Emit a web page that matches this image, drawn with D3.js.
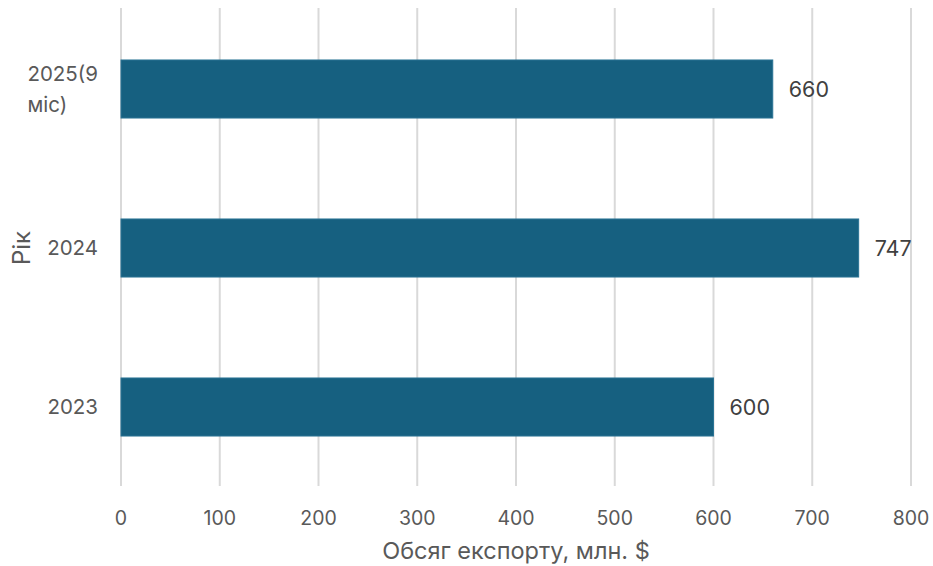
<!DOCTYPE html>
<html lang="uk">
<head>
<meta charset="UTF-8">
<title>Обсяг експорту</title>
<script src="https://d3js.org/d3.v7.min.js"></script>
<style>
  body { margin: 0; background: #fff; }
  text { font-family: Inter, "Noto Sans", sans-serif; fill: #595959; }
</style>
</head>
<body>
<script>
var years = ['2025(9 міс)', '2024', '2023'];
var values = [660, 747, 600];
var xTicks = [0, 100, 200, 300, 400, 500, 600, 700, 800];

var width = 933, height = 566;

var svg = d3.select('body').append('svg')
  .attr('width', width)
  .attr('height', height);

var x = d3.scaleLinear().domain([0, 800]).range([121, 911]);
var y = d3.scaleBand().domain(years)
  .range([9.5, 486.5])
  .paddingInner(0.635)
  .paddingOuter(0.3175);

// gridlines
svg.selectAll('line.grid')
  .data(xTicks)
  .enter().append('line')
  .attr('class', 'grid')
  .attr('x1', function(d) { return x(d); })
  .attr('x2', function(d) { return x(d); })
  .attr('y1', 8)
  .attr('y2', 486)
  .attr('stroke', '#d9d9d9')
  .attr('stroke-width', 2);

// bars
svg.selectAll('rect.bar')
  .data(values)
  .enter().append('rect')
  .attr('class', 'bar')
  .attr('x', x(0))
  .attr('y', function(d, i) { return y(years[i]); })
  .attr('width', function(d) { return x(d) - x(0); })
  .attr('height', y.bandwidth())
  .attr('fill', '#166080')
  .attr('stroke', '#2a7394')
  .attr('stroke-width', 1);

// value labels
svg.selectAll('text.val')
  .data(values)
  .enter().append('text')
  .attr('class', 'val')
  .attr('x', function(d) { return x(d) + 16; })
  .attr('y', function(d, i) { return y(years[i]) + y.bandwidth() / 2; })
  .attr('dy', '0.35em')
  .attr('font-size', 21.5)
  .style('fill', '#404040')
  .text(function(d) { return d; });

// x tick labels
svg.selectAll('text.xt')
  .data(xTicks)
  .enter().append('text')
  .attr('class', 'xt')
  .attr('x', function(d) { return x(d); })
  .attr('y', 518)
  .attr('dy', '0.35em')
  .attr('text-anchor', 'middle')
  .attr('font-size', 19.5)
  .text(function(d) { return d; });

// y category labels (wrapped, lines left-aligned, block right-aligned)
years.forEach(function(name) {
  var parts = name.split(' ');
  var lines = parts.length > 1 ? [parts[0], parts.slice(1).join(' ')] : [parts[0]];
  var cy = y(name) + y.bandwidth() / 2;
  var lh = 31;
  var g = svg.append('text')
    .attr('font-size', 20.5);
  var t0 = cy - (lines.length - 1) * lh / 2;
  lines.forEach(function(l, j) {
    g.append('tspan').attr('y', t0 + j * lh).attr('dy', '0.35em').text(l);
  });
  var maxW = 0;
  g.selectAll('tspan').each(function() {
    maxW = Math.max(maxW, this.getComputedTextLength());
  });
  g.selectAll('tspan').attr('x', 98 - maxW);
});

// axis titles
svg.append('text')
  .attr('x', 516)
  .attr('y', 551)
  .attr('dy', '0.35em')
  .attr('text-anchor', 'middle')
  .attr('font-size', 23.5)
  .text('Обсяг експорту, млн. $');

svg.append('text')
  .attr('transform', 'translate(22,248) rotate(-90)')
  .attr('dy', '0.35em')
  .attr('text-anchor', 'middle')
  .attr('font-size', 24)
  .text('Рік');
</script>
</body>
</html>
